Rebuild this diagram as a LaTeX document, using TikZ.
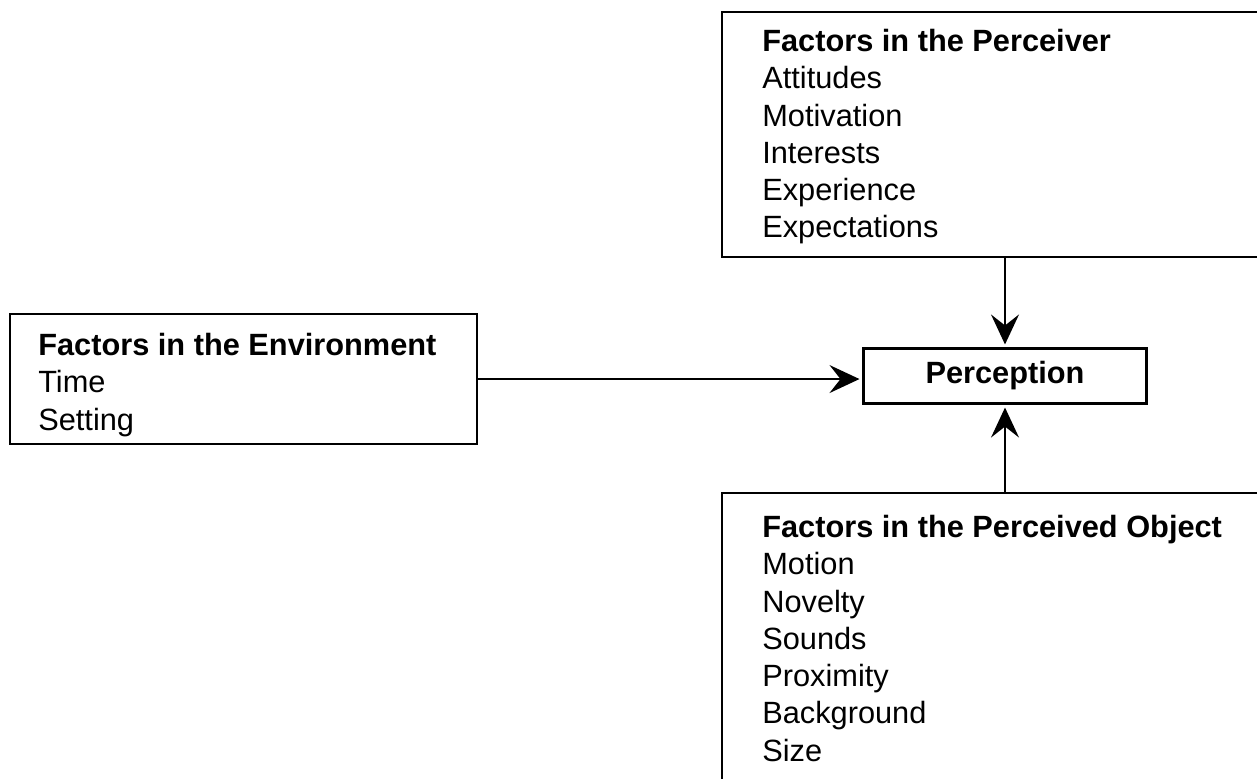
\documentclass[tikz,border=0pt]{standalone}
\usepackage{fontspec}
\setmainfont{Liberation Sans}
\usetikzlibrary{arrows.meta, positioning}
\tikzstyle{rect} = [rectangle, 
			draw, 
			line width = 1.2pt, 
			anchor = north west, 
			inner sep = 0pt]
\tikzstyle{ntext} = [align = left, 
			anchor = north west, 
			inner sep = 0pt, 
			font = \fontsize{17.5}{21.2}\selectfont]
\tikzstyle{line} = [draw, line width = 0.9pt, shorten > = 0.06cm, 
			-{Stealth[length=0.6cm, width=0.56cm, inset=0.22cm]}]

\begin{document}
\begin{tikzpicture}[x=0.02cm, y=-0.02cm]
	\useasboundingbox (0,0) rectangle (1257,778);
	\node [rect, minimum width = 12cm, minimum height = 4.9cm] (perceiver) at (721,11) {};
	\node [rect, minimum width = 9.34cm, minimum height = 2.6cm] (env) at (9,313) {};
	\node [rect, minimum width = 12cm, minimum height = 8cm] (object) at (721,492) {};
	\node [rect, anchor = center, minimum width = 5.66cm, minimum height = 1.1cm, 
		font = \fontsize{17.5}{21.2}\selectfont\bfseries] (perception) at (1005,376) {Perception};
	\node [ntext, below right = 0.36cm and 0.82cm of perceiver.north west] (perceiver-text)
		{\textbf{Factors in the Perceiver}\\Attitudes\\Motivation\\Interests\\Experience\\Expectations};
	\node [ntext, below right = 0.40cm and 0.58cm of env.north west] (env-text)
		{\textbf{Factors in the Environment}\\Time\\Setting};
	\node [ntext, below right = 0.46cm and 0.82cm of object.north west] (object-text)
		{\textbf{Factors in the Perceived Object}\\Motion\\Novelty\\Sounds\\Proximity\\Background\\Size};
	\path [line] (perception.north |- perceiver.south) -- (perception.north);
	\path [line] (env.east) -- (env.east -| perception.west);
	\path [line] (perception.south |- object.north) -- (perception.south);
\end{tikzpicture}
\end{document}
